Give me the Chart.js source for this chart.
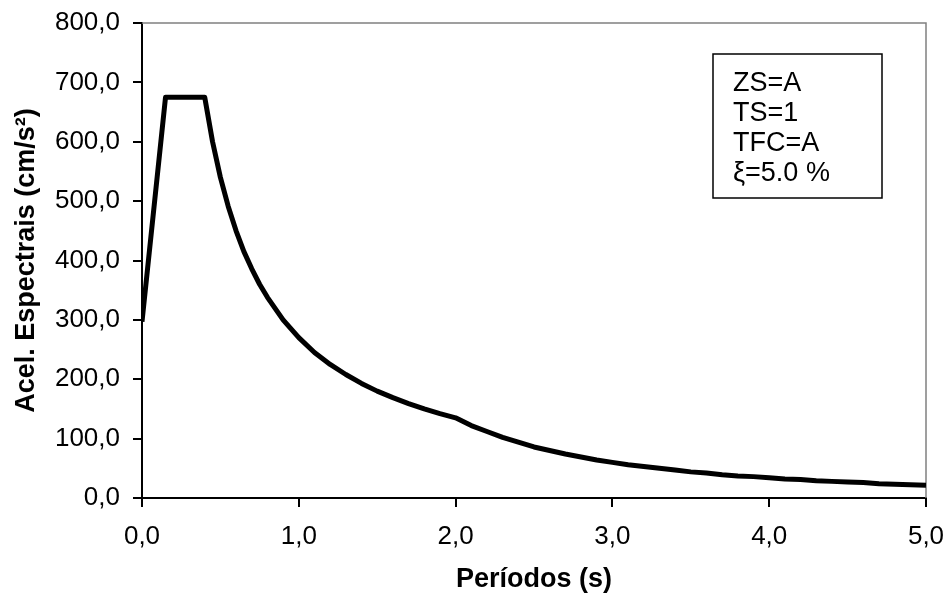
<!DOCTYPE html>
<html>
<head>
<meta charset="utf-8">
<title>Espectro de resposta</title>
<script src="https://cdn.jsdelivr.net/npm/chart.js@4/dist/chart.umd.min.js"></script>
<style>
  html, body { margin: 0; padding: 0; background: #fff; }
  #wrap { width: 948px; height: 597px; }
</style>
</head>
<body>
<div id="wrap"><canvas id="spectrumChart" width="948" height="597"></canvas></div>
<script>
// ============================================================================
// Data
// ============================================================================
const periods = [
    0, 0.15, 0.4, 0.45, 0.5, 0.55, 0.6, 0.65, 0.7, 0.75, 0.8, 0.9, 1.0,
    1.1, 1.2, 1.3, 1.4, 1.5, 1.6, 1.7, 1.8, 1.9, 2.0,
    2.1, 2.2, 2.3, 2.4, 2.5, 2.6, 2.7, 2.8, 2.9, 3.0,
    3.1, 3.2, 3.3, 3.4, 3.5, 3.6, 3.7, 3.8, 3.9, 4.0,
    4.1, 4.2, 4.3, 4.4, 4.5, 4.6, 4.7, 4.8, 4.9, 5.0
];
const accel = [
    297, 675, 675, 600, 540, 491, 450, 415, 386, 360, 338, 300, 270,
    245, 225, 208, 193, 180, 169, 159, 150, 142, 135,
    122, 112, 102, 94, 86, 80, 74, 69, 64, 60,
    56, 53, 50, 47, 44, 42, 39, 37, 36, 34,
    32, 31, 29, 28, 27, 26, 24, 23, 22.5, 21.6
];
const xTicks = [0, 1, 2, 3, 4, 5];
const yTicks = [0, 100, 200, 300, 400, 500, 600, 700, 800];
const boxLines = ['ZS=A', 'TS=1', 'TFC=A', 'ξ=5.0 %'];

const FONT = "'Liberation Sans', Arial, sans-serif";
const fmt = v => v.toFixed(1).replace('.', ',');

// Gray top/right frame of the plot area
const framePlugin = {
    id: 'frame',
    beforeDatasetsDraw(chart) {
        const { ctx, chartArea: a } = chart;
        ctx.save();
        ctx.strokeStyle = '#808080';
        ctx.lineWidth = 1.5;
        ctx.beginPath();
        ctx.moveTo(a.left, a.top);
        ctx.lineTo(a.right, a.top);
        ctx.lineTo(a.right, a.bottom);
        ctx.stroke();
        ctx.restore();
    }
};

// Parameter box in the upper right
const infoBoxPlugin = {
    id: 'infoBox',
    afterDraw(chart) {
        const { ctx } = chart;
        ctx.save();
        ctx.fillStyle = '#fff';
        ctx.fillRect(713, 54, 169, 144);
        ctx.strokeStyle = '#000';
        ctx.lineWidth = 1.5;
        ctx.strokeRect(713, 54, 169, 144);
        ctx.fillStyle = '#000';
        ctx.font = `27px ${FONT}`;
        ctx.textBaseline = 'alphabetic';
        boxLines.forEach((line, i) => ctx.fillText(line, 733, 91 + i * 30));
        ctx.restore();
    }
};

new Chart(document.getElementById('spectrumChart'), {
    type: 'line',
    data: {
        datasets: [{
            data: periods.map((t, i) => ({ x: t, y: accel[i] })),
            borderColor: '#000',
            borderWidth: 5,
            borderJoinStyle: 'round',
            pointRadius: 0,
            tension: 0,
            fill: false
        }]
    },
    options: {
        responsive: false,
        animation: false,
        devicePixelRatio: 1,
        layout: { padding: { top: 23, right: 22, left: 0, bottom: 0 } },
        plugins: { legend: { display: false }, tooltip: { enabled: false } },
        scales: {
            x: {
                type: 'linear',
                min: 0,
                max: 5,
                afterFit: s => { s.height = 99; s.paddingRight = 0; s.paddingLeft = 0; },
                afterBuildTicks: s => { s.ticks = xTicks.map(v => ({ value: v })); },
                grid: { drawOnChartArea: false, drawTicks: true, tickLength: 9, color: '#000', lineWidth: 2 },
                border: { color: '#000', width: 2 },
                ticks: {
                    color: '#000',
                    font: { family: FONT, size: 26 },
                    padding: 14,
                    maxRotation: 0,
                    autoSkip: false,
                    callback: v => fmt(v)
                },
                title: {
                    display: true,
                    text: 'Períodos (s)',
                    color: '#000',
                    font: { family: FONT, size: 27, weight: 'bold' },
                    padding: { top: 0, bottom: 1 }
                }
            },
            y: {
                min: 0,
                max: 800,
                afterFit: s => { s.width = 142; s.paddingTop = 0; s.paddingBottom = 0; },
                afterBuildTicks: s => { s.ticks = yTicks.map(v => ({ value: v })); },
                grid: { drawOnChartArea: false, drawTicks: true, tickLength: 9, color: '#000', lineWidth: 2 },
                border: { color: '#000', width: 2 },
                ticks: {
                    color: '#000',
                    font: { family: FONT, size: 26 },
                    padding: 13,
                    autoSkip: false,
                    callback: v => fmt(v)
                },
                title: {
                    display: true,
                    text: 'Acel. Espectrais (cm/s²)',
                    color: '#000',
                    font: { family: FONT, size: 27, weight: 'bold' },
                    padding: { top: 10, bottom: 0 }
                }
            }
        }
    },
    plugins: [framePlugin, infoBoxPlugin]
});
</script>
</body>
</html>
